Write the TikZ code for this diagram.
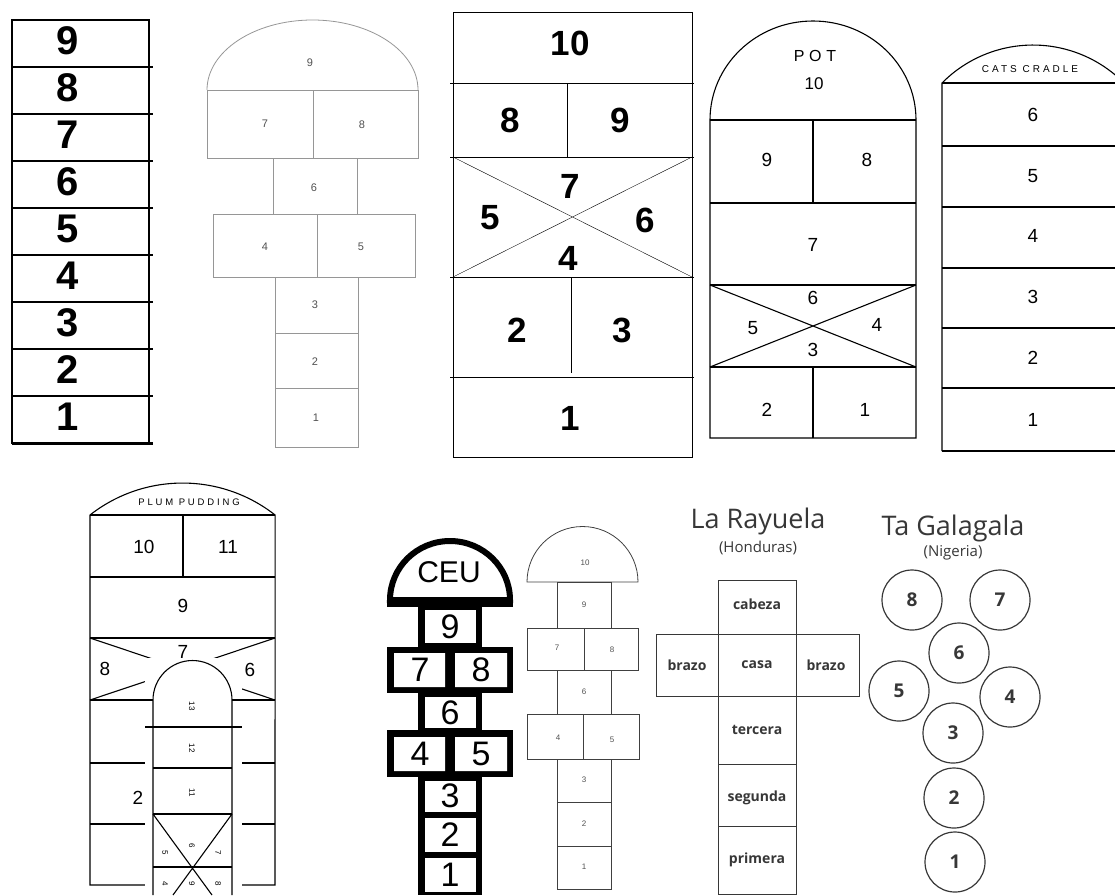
\documentclass[tikz,border=0pt]{standalone}
\usepackage{fontspec}
\setmainfont{Liberation Sans}
\newfontfamily\capsfont[LetterSpace=30]{Liberation Sans}
\newfontfamily\rayfont{Open Sans}
\definecolor{hsgray}{RGB}{150,150,150}
\definecolor{hstext}{RGB}{80,80,80}
\definecolor{rayink}{RGB}{55,55,55}
\usetikzlibrary{positioning}

\begin{document}
\begin{tikzpicture}[x=1pt, y=-1pt,
  bignum/.style={inner sep=0pt, font=\fontsize{40}{40}\selectfont\bfseries},
  midnum/.style={inner sep=0pt, font=\fontsize{35}{35}\selectfont\bfseries},
  greynum/.style={inner sep=0pt, text=hstext, font=\fontsize{11}{11}\selectfont},
  handnum/.style={inner sep=0pt, font=\fontsize{19}{19}\selectfont},
  ceunum/.style={inner sep=0pt, font=\fontsize{34}{34}\selectfont},
  tinynum/.style={inner sep=0pt, text=hstext, font=\fontsize{8}{8}\selectfont},
  capslab/.style={inner sep=0pt, font=\capsfont\fontsize{10}{10}\selectfont},
  raylab/.style={inner sep=0pt, text=rayink, font=\rayfont\bfseries\fontsize{14}{14}\selectfont},
  raytitle/.style={inner sep=0pt, text=rayink, font=\rayfont\fontsize{27}{27}\selectfont},
  raysub/.style={inner sep=0pt, text=rayink, font=\rayfont\fontsize{15}{15}\selectfont},
  stone/.style={circle, draw=rayink, line width=1.2pt, minimum size=60pt, inner sep=0pt,
                text=rayink, font=\rayfont\bfseries\fontsize{19}{19}\selectfont},
  greyline/.style={draw=hsgray, line width=0.8pt},
  inkline/.style={line width=1.1pt}
]
\useasboundingbox (0,0) rectangle (1115,895);
\clip (0,0) rectangle (1115,895);

% Ladder 1-9
\draw[line width=1.6pt] (12,20) rectangle (149,443);
\foreach \y in {67,114,...,396} \draw[line width=1.4pt] (12,\y) -- (153,\y);
\draw[line width=3pt] (12,443) -- (153,443);
\foreach \n [evaluate=\n as \yy using 443-47*\n+21] in {1,...,9}
  \node[bignum] (lad\n) at (68,\yy) {\n};

% Mushroom 1-9
\draw[greyline] (207,90) arc[start angle=180, end angle=360, x radius=105.5, y radius=70];
\draw[greyline] (207,90) rectangle (418,158) (313,90) -- (313,158);
\draw[greyline] (273,158) rectangle (357,214);
\draw[greyline] (213,214) rectangle (415,277) (317,214) -- (317,277);
\draw[greyline] (275,277) rectangle (358,447);
\draw[greyline] (275,333) -- (358,333) (275,388) -- (358,388);
\node[greynum] (mu9) at (310,63)  {9};
\node[greynum] (mu7) at (265,124) {7};
\node[greynum] (mu8) at (362,125) {8};
\node[greynum] (mu6) at (314,188) {6};
\node[greynum] (mu4) at (265,247) {4};
\node[greynum] (mu5) at (361,247) {5};
\node[greynum] (mu3) at (315,305) {3};
\node[greynum] (mu2) at (315,362) {2};
\node[greynum] (mu1) at (316,418) {1};

% Ten box with cross
\draw[line width=1pt] (453,12) rectangle (692,457);
\foreach \y in {83,157,277,377} \draw[line width=1pt] (450,\y) -- (694,\y);
\draw[line width=1pt] (567,83) -- (567,157) (571,277) -- (571,373);
\draw (453,157) -- (692,277) (453,277) -- (692,157);
\node[midnum] (ten10) at (570,43)  {10};
\node[midnum] (ten8)  at (510,120) {8};
\node[midnum] (ten9)  at (620,120) {9};
\node[midnum] (ten7)  at (570,186) {7};
\node[midnum] (ten5)  at (490,218) {5};
\node[midnum] (ten6)  at (645,220) {6};
\node[midnum] (ten4)  at (568,258) {4};
\node[midnum] (ten2)  at (517,330) {2};
\node[midnum] (ten3)  at (622,330) {3};
\node[midnum] (ten1)  at (570,418) {1};

% Pot
\draw[inkline] (710,120) arc[start angle=180, end angle=360, x radius=103, y radius=99]
  -- (916,438) -- (710,438) -- cycle;
\foreach \y in {120,203,285,367} \draw[inkline] (710,\y) -- (916,\y);
\draw[inkline] (813,120) -- (813,203) (813,367) -- (813,438);
\draw[inkline] (710,285) -- (916,367) (710,367) -- (916,285);
\node[capslab, font=\capsfont\fontsize{16}{16}\selectfont] (potT) at (815,56) {POT};
\node[handnum, font=\fontsize{17}{17}\selectfont] (pot10) at (814,84) {10};
\node[handnum] (pot9) at (767,160) {9};
\node[handnum] (pot8) at (867,160) {8};
\node[handnum] (pot7) at (813,245) {7};
\node[handnum] (pot6) at (813,298) {6};
\node[handnum] (pot5) at (753,328) {5};
\node[handnum] (pot4) at (877,325) {4};
\node[handnum] (pot3) at (813,350) {3};
\node[handnum] (pot2) at (767,410) {2};
\node[handnum] (pot1) at (865,410) {1};

% Cats cradle
\draw[inkline] (942,451) -- (942,83) arc[start angle=224.7, end angle=315.3, radius=128];
\foreach \y in {83,146,207,268,328,388,451} \draw[inkline] (942,\y) -- (1115,\y);
\node[capslab] (catT) at (1030,69) {CATS CRADLE};
\foreach \n/\yy in {6/115,5/176,4/236,3/297,2/358,1/420}
  \node[handnum] (cat\n) at (1033,\yy) {\n};

% Plum pudding
\draw[inkline] (90,885) -- (90,515) arc[start angle=231.9, end angle=308.1, radius=150]
  -- (275,885) -- cycle;
\foreach \y in {577,638,700,763,824} \draw[inkline] (90,\y) -- (275,\y);
\draw[inkline] (90,515) -- (275,515) (183,515) -- (183,577);
\draw[inkline] (90,638) -- (275,700) (90,700) -- (275,638);
\node[capslab, font=\capsfont\fontsize{9.5}{9.5}\selectfont] (plumT) at (189,502) {PLUM PUDDING};
\node[handnum] (pl10) at (144,547) {10};
\node[handnum] (pl11) at (228,547) {11};
\node[handnum] (pl9)  at (183,606) {9};
\node[handnum] (pl7)  at (183,652) {7};
\node[handnum] (pl8)  at (105,669) {8};
\node[handnum] (pl6)  at (250,670) {6};
\node[handnum] (pl2)  at (138,798) {2};
% inner snail court
\fill[white] (145,658) rectangle (242,895);
\draw[inkline] (153,895) -- (153,700) arc[start angle=180, end angle=360, radius=39.5] -- (232,895);
\draw[inkline] (145,700) -- (153,700) (232,700) -- (242,700) (145,727) -- (242,727);
\foreach \y in {768,814,867} \draw[inkline] (153,\y) -- (232,\y);
\draw[inkline] (153,814) -- (212,895) (232,814) -- (173,895);
\foreach \n/\xx/\yy in {13/192/706,12/192/748,11/192/793,5/165/853,6/192/846,7/218/853,4/165/884,9/192/884,8/218/884}
  \node[tinynum, text=black, rotate=-90] (sn\n) at (\xx,\yy) {\n};

% CEU court
\fill (418,598) rectangle (482,895);
\fill (387,647) rectangle (513,693);
\fill (387,730) rectangle (513,777);
\draw[line width=6pt, fill=white] (390,600) arc[start angle=180, end angle=360, x radius=60, y radius=59] -- cycle;
\fill (387,598) rectangle (513,607);
\fill[white] (425,610) rectangle (476,643);
\fill[white] (394,653) rectangle (445,687) (455,653) rectangle (507,687);
\fill[white] (425,697) rectangle (476,728);
\fill[white] (394,737) rectangle (445,771) (455,737) rectangle (507,771);
\fill[white] (425,781) rectangle (476,812);
\fill[white] (425,818) rectangle (476,852);
\fill[white] (425,858) rectangle (476,892);
\node[ceunum, font=\fontsize{30}{30}\selectfont] (ceuT) at (449,572) {CEU};
\node[ceunum] (ceu9) at (450,627) {9};
\node[ceunum] (ceu7) at (420,670) {7};
\node[ceunum] (ceu8) at (481,670) {8};
\node[ceunum] (ceu6) at (450,713) {6};
\node[ceunum] (ceu4) at (420,754) {4};
\node[ceunum] (ceu5) at (481,754) {5};
\node[ceunum] (ceu3) at (450,796) {3};
\node[ceunum] (ceu2) at (450,835) {2};
\node[ceunum] (ceu1) at (450,875) {1};

% Small mushroom 1-10
\draw[draw=black!75, line width=0.8pt] (527,582) arc[start angle=180, end angle=360, radius=55.5] -- cycle;
\draw[draw=black!75, line width=0.8pt] (557,582) rectangle (611,628);
\draw[draw=black!75, line width=0.8pt] (527,628) rectangle (638,670) (584,628) -- (584,670);
\draw[draw=black!75, line width=0.8pt] (557,670) rectangle (611,714);
\draw[draw=black!75, line width=0.8pt] (527,714) rectangle (639,759) (583,714) -- (583,759);
\draw[draw=black!75, line width=0.8pt] (557,759) rectangle (611,889) (557,802) -- (611,802) (557,846) -- (611,846);
\node[tinynum] (sm10) at (585,563) {10};
\node[tinynum] (sm9)  at (584,605) {9};
\node[tinynum] (sm7)  at (557,648) {7};
\node[tinynum] (sm8)  at (612,650) {8};
\node[tinynum] (sm6)  at (584,692) {6};
\node[tinynum] (sm4)  at (558,738) {4};
\node[tinynum] (sm5)  at (612,740) {5};
\node[tinynum] (sm3)  at (584,780) {3};
\node[tinynum] (sm2)  at (584,824) {2};
\node[tinynum] (sm1)  at (584,867) {1};

% La Rayuela
\node[raytitle] (rayT) at (758,521) {La Rayuela};
\node[raysub]   (rayS) at (758,548) {(Honduras)};
\draw[draw=rayink, line width=1pt] (718,580) rectangle (796,894);
\draw[draw=rayink, line width=1pt] (656,634) rectangle (859,696);
\draw[draw=rayink, line width=1pt] (718,764) -- (796,764) (718,826) -- (796,826);
\node[raylab] (rayHead) at (757,604) {cabeza};
\node[raylab] (rayArmL) at (687,665) {brazo};
\node[raylab] (rayHome) at (757,665) {casa};
\node[raylab] (rayArmR) at (826,665) {brazo};
\node[raylab] (ray3)    at (757,730) {tercera};
\node[raylab] (ray2)    at (757,798) {segunda};
\node[raylab] (ray1)    at (757,860) {primera};

% Ta Galagala
\node[raytitle] (galT) at (953,528) {Ta Galagala};
\node[raysub]   (galS) at (953,553) {(Nigeria)};
\node[stone] (gal8) at (912,600) {8};
\node[stone] (gal7) at (1000,600) {7};
\node[stone] (gal6) at (959,653) {6};
\node[stone] (gal5) at (899,691) {5};
\node[stone] (gal4) at (1010,697) {4};
\node[stone] (gal3) at (953,733) {3};
\node[stone] (gal2) at (954,798) {2};
\node[stone] (gal1) at (955,862) {1};
\end{tikzpicture}
\end{document}
